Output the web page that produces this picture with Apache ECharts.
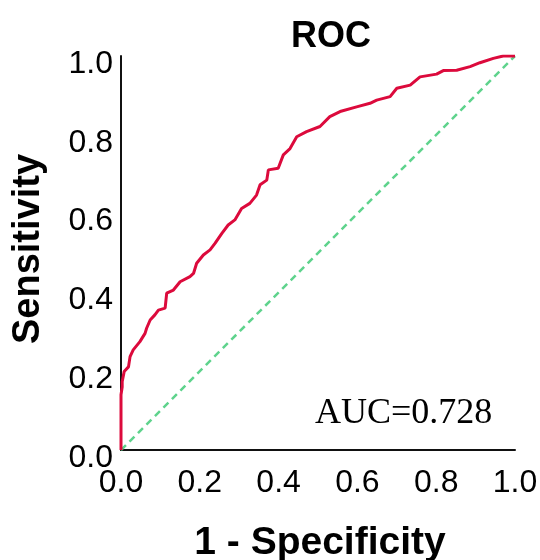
<!DOCTYPE html>
<html>
<head>
<meta charset="utf-8">
<script src="https://cdn.jsdelivr.net/npm/echarts@6/dist/echarts.min.js"></script>
<style>html,body{margin:0;padding:0;background:#fff}#c{width:540px;height:560px}</style>
</head>
<body>
<div id="c"></div>
<script>
var fpr = [0, 0, 0.003, 0.003, 0.008, 0.019, 0.023, 0.031, 0.048, 0.061, 0.065, 0.074, 0.086, 0.095, 0.112, 0.116, 0.133, 0.15, 0.175, 0.184, 0.192, 0.209, 0.226, 0.239, 0.256, 0.272, 0.289, 0.306, 0.327, 0.344, 0.353, 0.37, 0.374, 0.399, 0.412, 0.429, 0.446, 0.471, 0.505, 0.53, 0.556, 0.598, 0.632, 0.649, 0.683, 0.7, 0.734, 0.759, 0.801, 0.818, 0.852, 0.886, 0.911, 0.945, 0.97, 1.0];
var tpr = [0, 0.14, 0.16, 0.173, 0.199, 0.211, 0.237, 0.254, 0.275, 0.296, 0.309, 0.33, 0.343, 0.355, 0.36, 0.398, 0.406, 0.427, 0.44, 0.448, 0.474, 0.495, 0.508, 0.525, 0.55, 0.571, 0.584, 0.613, 0.626, 0.647, 0.673, 0.685, 0.711, 0.715, 0.749, 0.765, 0.795, 0.808, 0.821, 0.846, 0.859, 0.871, 0.88, 0.888, 0.897, 0.918, 0.926, 0.947, 0.954, 0.963, 0.964, 0.973, 0.983, 0.994, 1.0, 1.0];
var refX = [0, 1];
var refY = [0, 1];
var titleText = 'ROC';
var xName = '1 - Specificity';
var yName = 'Sensitivity';
var aucText = 'AUC=0.728';

var rocData = fpr.map(function (v, i) { return [v, tpr[i]]; });
var refData = refX.map(function (v, i) { return [v, refY[i]]; });

var chart = echarts.init(document.getElementById('c'), null, {renderer: 'canvas'});
chart.setOption({
  animation: false,
  backgroundColor: '#fff',
  title: {
    text: titleText, left: 326, top: 14, textAlign: 'center',
    textStyle: {fontFamily: 'Liberation Sans, Arial', fontWeight: 'bold', fontSize: 36, color: '#000'}
  },
  grid: {left: 121, right: 25, top: 56, bottom: 110, containLabel: false, outerBoundsMode: 'none'},
  xAxis: {
    type: 'value', min: 0, max: 1, interval: 0.2,
    axisLine: {show: true, lineStyle: {color: '#111', width: 2}},
    axisTick: {show: false},
    splitLine: {show: false},
    axisLabel: {
      margin: 17, fontFamily: 'Liberation Sans, Arial', fontSize: 32, color: '#000',
      formatter: function (v) { return v.toFixed(1); }
    }
  },
  yAxis: {
    type: 'value', min: 0, max: 1, interval: 0.2,
    axisLine: {show: true, lineStyle: {color: '#111', width: 2}},
    axisTick: {show: false},
    splitLine: {show: false},
    axisLabel: {
      margin: 8, fontFamily: 'Liberation Sans, Arial', fontSize: 32, color: '#000',
      formatter: function (v) { return '{v|' + v.toFixed(1) + '}'; },
      rich: {v: {fontFamily: 'Liberation Sans, Arial', fontSize: 32, color: '#000', padding: [16, 0, 0, 0]}}
    }
  },
  series: [
    {
      type: 'line', data: refData, symbol: 'none', silent: true,
      lineStyle: {color: '#5fd38d', width: 2.5, type: [7, 5]}, z: 2
    },
    {
      type: 'line', data: rocData, symbol: 'none', silent: true,
      lineStyle: {color: '#dc0a3c', width: 3}, z: 3
    }
  ],
  graphic: [
    {
      type: 'text', left: 315, top: 396,
      style: {text: aucText, font: '36px "Liberation Serif", "Times New Roman", serif', fill: '#000'}
    },
    {
      type: 'text', x: 29, y: 249, rotation: Math.PI / 2,
      style: {text: yName, font: 'bold 38px "Liberation Sans", Arial, sans-serif', fill: '#000',
              textAlign: 'center', textVerticalAlign: 'middle'}
    },
    {
      type: 'text', x: 320, y: 543,
      style: {text: xName, font: 'bold 39px "Liberation Sans", Arial, sans-serif', fill: '#000',
              textAlign: 'center', textVerticalAlign: 'middle'}
    }
  ]
});
</script>
</body>
</html>
